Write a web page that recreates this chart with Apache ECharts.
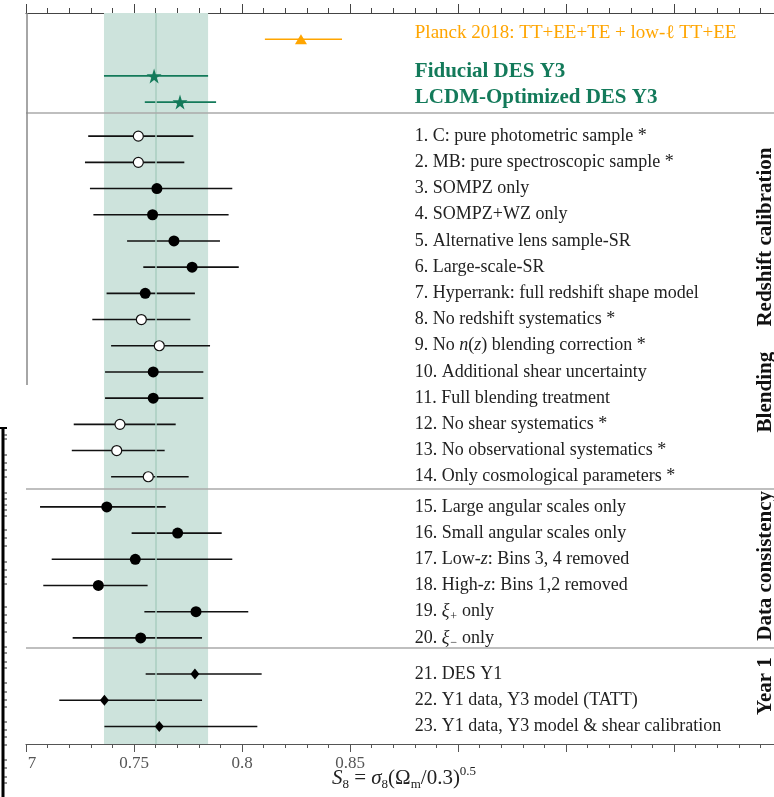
<!DOCTYPE html>
<html lang="en">
<head>
    <meta charset="UTF-8">
    <title>S8 robustness</title>
    <script type="text/javascript" src="https://cdn.jsdelivr.net/npm/echarts@6/dist/echarts.min.js"></script>
    <style>
        html, body { margin: 0; padding: 0; background: #fff; }
        #chart { width: 774px; height: 797px; }
    </style>
</head>
<body>
<div id="chart"></div>
<script>
    // rows of the comparison (top to bottom)
    var rowNames = [
        '1. C: pure photometric sample *',
        '2. MB: pure spectroscopic sample *',
        '3. SOMPZ only',
        '4. SOMPZ+WZ only',
        '5. Alternative lens sample-SR',
        '6. Large-scale-SR',
        '7. Hyperrank: full redshift shape model',
        '8. No redshift systematics *',
        '9. No {i|n}({i|z}) blending correction *',
        '10. Additional shear uncertainty',
        '11. Full blending treatment',
        '12. No shear systematics *',
        '13. No observational systematics *',
        '14. Only cosmological parameters *',
        '15. Large angular scales only',
        '16. Small angular scales only',
        '17. Low-{i|z}: Bins 3, 4 removed',
        '18. High-{i|z}: Bins 1,2 removed',
        '19. {i|ξ}{sub|+} only',
        '20. {i|ξ}{sub|−} only',
        '21. DES Y1',
        '22. Y1 data, Y3 model (TATT)',
        '23. Y1 data, Y3 model & shear calibration'
    ];
    var rowY = [4.7, 5.7, 6.7, 7.7, 8.7, 9.7, 10.7, 11.7, 12.7, 13.7, 14.7, 15.7, 16.7, 17.7,
                18.85, 19.85, 20.85, 21.85, 22.85, 23.85,
                25.23, 26.23, 27.23];
    var rowCentral = [0.752, 0.752, 0.7606, 0.7586, 0.7685, 0.7769, 0.7552, 0.7534, 0.7617, 0.7589, 0.7589,
                      0.7435, 0.742, 0.7566, 0.7374, 0.7702, 0.7506, 0.7335, 0.7787, 0.7531,
                      0.7782, 0.7363, 0.7617];
    var rowLow = [0.7288, 0.7273, 0.7296, 0.7312, 0.7468, 0.7543, 0.7373, 0.7307, 0.7394, 0.7366, 0.7366,
                  0.7221, 0.7212, 0.7394, 0.7065, 0.7489, 0.7119, 0.708, 0.7548, 0.7216,
                  0.7554, 0.7154, 0.7363];
    var rowHigh = [0.7775, 0.7733, 0.7955, 0.7938, 0.7898, 0.7985, 0.7782, 0.7761, 0.7852, 0.7821, 0.7821,
                   0.7693, 0.7642, 0.7753, 0.7647, 0.7906, 0.7955, 0.7563, 0.8029, 0.7815,
                   0.8091, 0.7815, 0.8071];
    var rowMarker = ['open', 'open', 'filled', 'filled', 'filled', 'filled', 'filled', 'open', 'open', 'filled',
                     'filled', 'open', 'open', 'open', 'filled', 'filled', 'filled', 'filled', 'filled', 'filled',
                     'diamond', 'diamond', 'diamond'];

    // reference results at the top
    var refNames = ['Planck 2018: TT+EE+TE + low-ℓ TT+EE', 'Fiducial DES Y3', 'LCDM-Optimized DES Y3'];
    var refY = [1.0, 2.4, 3.4];
    var refTextY = [0.78, 2.22, 3.22];
    var refCentral = [0.8273, 0.7593, 0.7713];
    var refLow = [0.8106, 0.7361, 0.755];
    var refHigh = [0.8463, 0.7843, 0.788];

    // fiducial band
    var bandLow = 0.7361, bandHigh = 0.7843, bandMid = 0.7593;

    var sepY = [3.82, 18.17, 24.24];
    var groupNames = ['Redshift calibration', 'Blending', 'Data consistency', 'Year 1'];
    var groupY = [8.55, 14.47, 21.1, 25.69];

    var tickText = {'0.7': '{l|7}', '0.75': '0.75', '0.8': '0.8', '0.85': '0.85'};
    var labelX = 0.88, groupX = 1.0426;

    // ticks of the neighbouring (cropped) panel on the far left, pixel rows
    var edgeTicks = [435, 439, 455, 463, 470, 477, 493, 499, 505, 510, 516, 530, 538, 546, 562, 570, 577, 584,
                     607, 615, 623, 632, 647, 653, 662, 668, 683, 692, 700, 707, 722, 730, 737, 745, 760, 768, 777, 783];

    var serif = "'Liberation Serif', 'DejaVu Serif', serif";
    var black = '#111', green = '#137a5a', orange = '#ffa500';

    var chart = echarts.init(document.getElementById('chart'));

    function errBars(color) {
        return function (params, api) {
            var a = api.coord([api.value(0), api.value(2)]);
            var b = api.coord([api.value(1), api.value(2)]);
            return {
                type: 'line',
                shape: {x1: a[0], y1: a[1], x2: b[0], y2: b[1]},
                style: {stroke: color, lineWidth: 1.6}
            };
        };
    }

    var rowBars = [], openPts = [], filledPts = [], diamondPts = [], rowLabels = [];
    for (var i = 0; i < rowNames.length; i++) {
        rowBars.push([rowLow[i], rowHigh[i], rowY[i]]);
        var p = [rowCentral[i], rowY[i]];
        if (rowMarker[i] == 'open') openPts.push(p);
        else if (rowMarker[i] == 'filled') filledPts.push(p);
        else diamondPts.push(p);
        rowLabels.push([labelX, rowY[i], rowNames[i]]);
    }

    var richText = {
        i: {fontFamily: serif, fontStyle: 'italic', fontSize: 18, fill: '#222'},
        sub: {fontFamily: serif, fontStyle: 'italic', fontSize: 12, fill: '#222', verticalAlign: 'bottom', lineHeight: 22}
    };

    var starPath = 'path://M50,0 L61,35 L98,35 L68,57 L79,91 L50,70 L21,91 L32,57 L2,35 L39,35 Z';

    var graphics = [
        // left spine stops half way (cropped figure)
        {type: 'line', shape: {x1: 27, y1: 13, x2: 27, y2: 385}, style: {stroke: '#888', lineWidth: 1.5}, z: 10},
        // edge of the neighbouring panel
        {type: 'line', shape: {x1: 3, y1: 427, x2: 3, y2: 797}, style: {stroke: '#000', lineWidth: 3}, z: 10},
        {type: 'line', shape: {x1: 0, y1: 428, x2: 7, y2: 428}, style: {stroke: '#000', lineWidth: 2}, z: 10}
    ];
    edgeTicks.forEach(function (y) {
        graphics.push({type: 'line', shape: {x1: 4, y1: y, x2: 7, y2: y}, style: {stroke: '#222', lineWidth: 1}, z: 10});
    });

    var option = {
        animation: false,
        grid: {left: 26, top: 13, width: 756, height: 731, containLabel: false, outerBoundsMode: 'none'},
        xAxis: [{
            type: 'value',
            min: 0.7,
            max: 1.05,
            interval: 0.05,
            position: 'bottom',
            splitLine: {show: false},
            axisLine: {onZero: false, lineStyle: {color: '#555', width: 1.2}},
            axisTick: {length: 8, lineStyle: {color: '#555'}},
            minorTick: {show: true, splitNumber: 5, length: 4, lineStyle: {color: '#555'}},
            axisLabel: {
                margin: 11,
                fontFamily: serif,
                fontSize: 17,
                color: '#555',
                rich: {l: {fontFamily: serif, fontSize: 17, color: '#555', padding: [0, 0, 0, 12]}},
                formatter: function (v) {
                    return tickText[String(+v.toFixed(2))] || '';
                }
            },
            name: '{i|S}{sub|8} = {i|σ}{sub|8}(Ω{sub|m}/0.3){sup|0.5}',
            nameLocation: 'middle',
            nameGap: 21,
            nameMoveOverlap: false,
            nameTextStyle: {
                fontFamily: serif,
                fontSize: 21,
                color: '#222',
                rich: {
                    i: {fontFamily: serif, fontStyle: 'italic', fontSize: 21, color: '#222', lineHeight: 26},
                    sub: {fontFamily: serif, fontSize: 13, color: '#222', verticalAlign: 'bottom', lineHeight: 26},
                    sup: {fontFamily: serif, fontSize: 13, color: '#222', verticalAlign: 'top', lineHeight: 26}
                }
            }
        }, {
            type: 'value',
            min: 0.7,
            max: 1.05,
            interval: 0.05,
            position: 'top',
            splitLine: {show: false},
            axisLine: {onZero: false, lineStyle: {color: '#444', width: 1.2}},
            axisTick: {length: 9, lineStyle: {color: '#444'}},
            minorTick: {show: true, splitNumber: 5, length: 5, lineStyle: {color: '#444'}},
            axisLabel: {show: false}
        }],
        yAxis: {
            type: 'value',
            inverse: true,
            min: 0,
            max: 27.9,
            show: false
        },
        graphic: graphics,
        series: [
            {
                name: 'band',
                type: 'custom',
                data: rowBars,
                renderItem: function () { return null; },
                markArea: {
                    silent: true,
                    itemStyle: {color: '#cde3dc'},
                    data: [[{xAxis: bandLow}, {xAxis: bandHigh}]]
                },
                markLine: {
                    silent: true,
                    symbol: 'none',
                    label: {show: false},
                    data: [{xAxis: bandMid, lineStyle: {color: '#a9cec1', width: 1.5, type: 'solid'}}]
                        .concat(sepY.map(function (y) {
                            return {yAxis: y, lineStyle: {color: '#aaa', width: 1.5, type: 'solid'}};
                        }))
                },
                z: 1
            },
            {
                name: 'rows',
                type: 'custom',
                renderItem: errBars(black),
                data: rowBars,
                z: 3
            },
            {
                name: 'planck bar',
                type: 'custom',
                renderItem: errBars(orange),
                data: [[refLow[0], refHigh[0], refY[0]]],
                z: 3
            },
            {
                name: 'des bars',
                type: 'custom',
                renderItem: errBars(green),
                data: [[refLow[1], refHigh[1], refY[1]], [refLow[2], refHigh[2], refY[2]]],
                z: 3
            },
            {
                name: 'open',
                type: 'scatter',
                data: openPts,
                symbol: 'circle',
                symbolSize: 10,
                itemStyle: {color: '#fff', borderColor: '#111', borderWidth: 1.2, opacity: 1},
                z: 5
            },
            {
                name: 'filled',
                type: 'scatter',
                data: filledPts,
                symbol: 'circle',
                symbolSize: 11,
                itemStyle: {color: '#000', opacity: 1},
                z: 5
            },
            {
                name: 'diamond',
                type: 'scatter',
                data: diamondPts,
                symbol: 'diamond',
                symbolSize: [9, 11],
                itemStyle: {color: '#000', opacity: 1},
                z: 5
            },
            {
                name: 'planck',
                type: 'scatter',
                data: [[refCentral[0], refY[0]]],
                symbol: 'triangle',
                symbolSize: [12, 10],
                itemStyle: {color: orange, opacity: 1},
                z: 5
            },
            {
                name: 'des',
                type: 'scatter',
                data: [[refCentral[1], refY[1]], [refCentral[2], refY[2]]],
                symbol: starPath,
                symbolSize: 15,
                itemStyle: {color: green, opacity: 1},
                z: 5
            },
            {
                name: 'row labels',
                type: 'custom',
                data: rowLabels,
                renderItem: function (params, api) {
                    var c = api.coord([api.value(0), api.value(1)]);
                    return {
                        type: 'text',
                        x: c[0], y: c[1],
                        style: {
                            text: rowLabels[params.dataIndex][2],
                            fontFamily: serif, fontSize: 18, fill: '#222',
                            align: 'left', verticalAlign: 'middle',
                            rich: richText
                        }
                    };
                },
                z: 6
            },
            {
                name: 'ref labels',
                type: 'custom',
                data: [[labelX, refTextY[0]], [labelX, refTextY[1]], [labelX, refTextY[2]]],
                renderItem: function (params, api) {
                    var c = api.coord([api.value(0), api.value(1)]);
                    var k = params.dataIndex;
                    return {
                        type: 'text',
                        x: c[0], y: c[1],
                        style: {
                            text: refNames[k],
                            fontFamily: serif, fontSize: k == 0 ? 19 : 21,
                            fontWeight: k == 0 ? 'normal' : 'bold',
                            fill: k == 0 ? orange : green,
                            align: 'left', verticalAlign: 'middle'
                        }
                    };
                },
                z: 6
            },
            {
                name: 'groups',
                type: 'custom',
                data: groupY.map(function (y) { return [groupX, y]; }),
                renderItem: function (params, api) {
                    var c = api.coord([api.value(0), api.value(1)]);
                    return {
                        type: 'text',
                        x: c[0], y: c[1],
                        rotation: Math.PI / 2,
                        style: {
                            text: groupNames[params.dataIndex],
                            fontFamily: serif, fontSize: 21, fontWeight: 'bold', fill: '#111',
                            align: 'center', verticalAlign: 'middle'
                        }
                    };
                },
                z: 6
            }
        ]
    };
    chart.setOption(option);
</script>
</body>
</html>
